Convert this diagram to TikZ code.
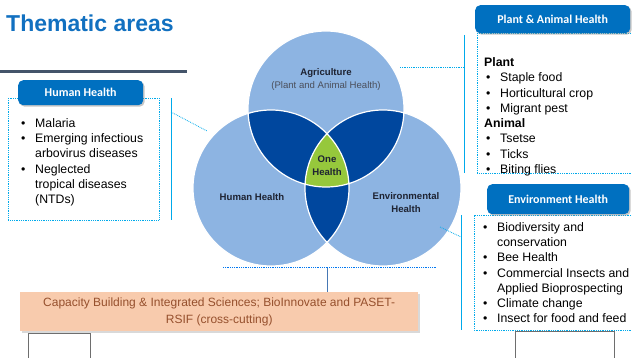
\documentclass[tikz,border=0pt]{standalone}
\usepackage{fontspec}
\setmainfont{Liberation Sans}
\newfontfamily\tabfont{Carlito}
\usetikzlibrary{shadows}
\definecolor{tabblue}{RGB}{0,112,192}
\definecolor{titleblue}{RGB}{17,112,192}
\definecolor{lightc}{RGB}{141,180,226}
\definecolor{darkc}{RGB}{0,71,158}
\definecolor{greenc}{RGB}{150,200,60}
\definecolor{conn}{RGB}{0,170,235}
\definecolor{rulec}{RGB}{68,84,106}
\definecolor{peach}{RGB}{248,203,173}
\definecolor{peachtxt}{RGB}{150,80,45}
\definecolor{venntxt}{RGB}{30,35,50}
\definecolor{boxgray}{RGB}{110,110,110}
\newcommand\myb{\makebox[14pt][l]{•}}
\newcommand\myi{\hspace*{14pt}}
\begin{document}
\begin{tikzpicture}[x=1pt,y=-1pt,
  tabbox/.style={fill=tabblue, rounded corners=5pt, text=white, anchor=north west,
    font=\tabfont\bfseries\fontsize{12}{14}\selectfont,
    drop shadow={shadow xshift=1.5pt, shadow yshift=-1.5pt, opacity=0.45}},
  listbox/.style={draw=conn, densely dotted, line width=0.8pt},
  vline/.style={draw=conn, line width=0.8pt},
  dotconn/.style={draw=conn, densely dotted, line width=0.8pt},
  listtext/.style={anchor=base west, inner sep=0pt, text=black},
  venn/.style={text=venntxt, font=\bfseries\fontsize{9.6}{12}\selectfont, align=center, inner sep=0pt},
  cr/.style={radius=78pt}]
\useasboundingbox (0,0) rectangle (632,358);

% title and rule
\node[anchor=base west, inner sep=0pt, text=titleblue, font=\bfseries\fontsize{23}{26}\selectfont] (title) at (6,32) {Thematic areas};
\coordinate (r1) at (0,72); \coordinate (r2) at (187,72);
\draw[rulec, line width=3pt] (r1) -- (r2);

% Venn diagram
\coordinate (ca) at (326,109);
\coordinate (ch) at (271,188);
\coordinate (ce) at (383,188);
\fill[lightc] (ca) circle[cr] (ch) circle[cr] (ce) circle[cr];
\begin{scope}
  \clip (ca) circle[cr];
  \fill[darkc] (ch) circle[cr];
  \fill[darkc] (ce) circle[cr];
\end{scope}
\begin{scope}
  \clip (ch) circle[cr];
  \fill[darkc] (ce) circle[cr];
\end{scope}
\begin{scope}
  \clip (ca) circle[cr];
  \clip (ch) circle[cr];
  \fill[greenc] (ce) circle[cr];
\end{scope}
\draw[white, line width=1.2pt] (ca) circle[cr] (ch) circle[cr] (ce) circle[cr];

\node[venn] (agri) at (326,73) {Agriculture};
\node[venn, font=\fontsize{9.6}{12}\selectfont, text=venntxt!80] (agri2) at (326,86) {(Plant and Animal Health)};
\node[venn] (hum) at (252,197) {Human Health};
\node[venn, font=\bfseries\fontsize{9.6}{13}\selectfont] (env) at (406,203) {Environmental\\Health};
\node[venn, font=\bfseries\fontsize{9.6}{13}\selectfont] (one) at (327,166) {One\\Health};

% Human Health panel
\draw[listbox] (8,98) rectangle (159,220);
\node[tabbox, minimum width=125pt, minimum height=25pt] (hhtab) at (18,80) {Human Health};
\node[listtext] (hhlist) at (21,127.5) {\parbox[t]{140pt}{\raggedright\fontsize{12.3}{15.2}\selectfont
  \myb Malaria\\ \myb Emerging infectious\\ \myi arbovirus diseases\\ \myb Neglected\\ \myi tropical diseases\\ \myi (NTDs)}};
\coordinate (hv1) at (171,98); \coordinate (hv2) at (171,220);
\draw[vline] (hv1) -- (hv2);
\coordinate (hc1) at (171,112); \coordinate (hc2) at (207,131);
\draw[dotconn] (hc1) -- (hc2);

% Plant & Animal Health panel
\draw[listbox] (477,33) -- (477,173) -- (640,173);
\draw[listbox] (477,33) -- (640,33);
\node[tabbox, minimum width=155pt, minimum height=28pt] (patab) at (475,5) {Plant \& Animal Health};
\node[listtext] (palist) at (484,66.5) {\parbox[t]{150pt}{\raggedright\fontsize{12.3}{15.3}\selectfont
  \textbf{Plant}\\ \hspace*{2pt}\myb Staple food\\ \hspace*{2pt}\myb Horticultural crop\\ \hspace*{2pt}\myb Migrant pest\\
  \textbf{Animal}\\ \hspace*{2pt}\myb Tsetse\\ \hspace*{2pt}\myb Ticks\\ \hspace*{2pt}\myb Biting flies}};
\coordinate (pv1) at (464,35); \coordinate (pv2) at (464,173);
\draw[vline] (pv1) -- (pv2);
\coordinate (pc1) at (400,67); \coordinate (pc2) at (464,67);
\draw[dotconn] (pc1) -- (pc2);

% Environment Health panel
\draw[listbox] (640,215) -- (474,215) -- (474,330) -- (640,330);
\node[tabbox, minimum width=142pt, minimum height=30pt] (ehtab) at (487,184) {Environment Health};
\node[listtext] (ehlist) at (483,231.5) {\parbox[t]{160pt}{\raggedright\fontsize{12.3}{15.2}\selectfont
  \myb Biodiversity and\\ \myi conservation\\ \myb Bee Health\\ \myb Commercial Insects and\\ \myi Applied Bioprospecting\\ \myb Climate change\\ \myb Insect for food and feed}};
\coordinate (ev1) at (461,215); \coordinate (ev2) at (461,330);
\draw[vline] (ev1) -- (ev2);
\coordinate (ec1) at (440,227); \coordinate (ec2) at (461,237);
\draw[dotconn] (ec1) -- (ec2);

% bottom connector and capacity building
\coordinate (bl1) at (223,267); \coordinate (bl2) at (437,267);
\draw[draw=conn!70!blue, densely dotted, line width=0.8pt] (bl1) -- (bl2);
\node[fill=peach, anchor=north west, minimum width=398pt, minimum height=39pt, inner sep=0pt,
  drop shadow={shadow xshift=1.5pt, shadow yshift=-1.5pt, opacity=0.3},
  text=peachtxt, align=center, font=\fontsize{12}{16.5}\selectfont] (cap) at (20,292)
  {Capacity Building \& Integrated Sciences; BioInnovate and PASET-\\RSIF (cross-cutting)};
\coordinate (bv1) at (327,268);
\draw[draw={rgb,255:red,70;green,120;blue,180}, line width=0.8pt] (bv1) -- (bv1 |- cap.north);

% small boxes at the bottom
\draw[boxgray, line width=0.7pt] (28,365) -- (28,333) -- (90,333) -- (90,365);
\draw[boxgray, line width=0.7pt] (515,365) -- (515,331) -- (614,331) -- (614,365);
\end{tikzpicture}
\end{document}
